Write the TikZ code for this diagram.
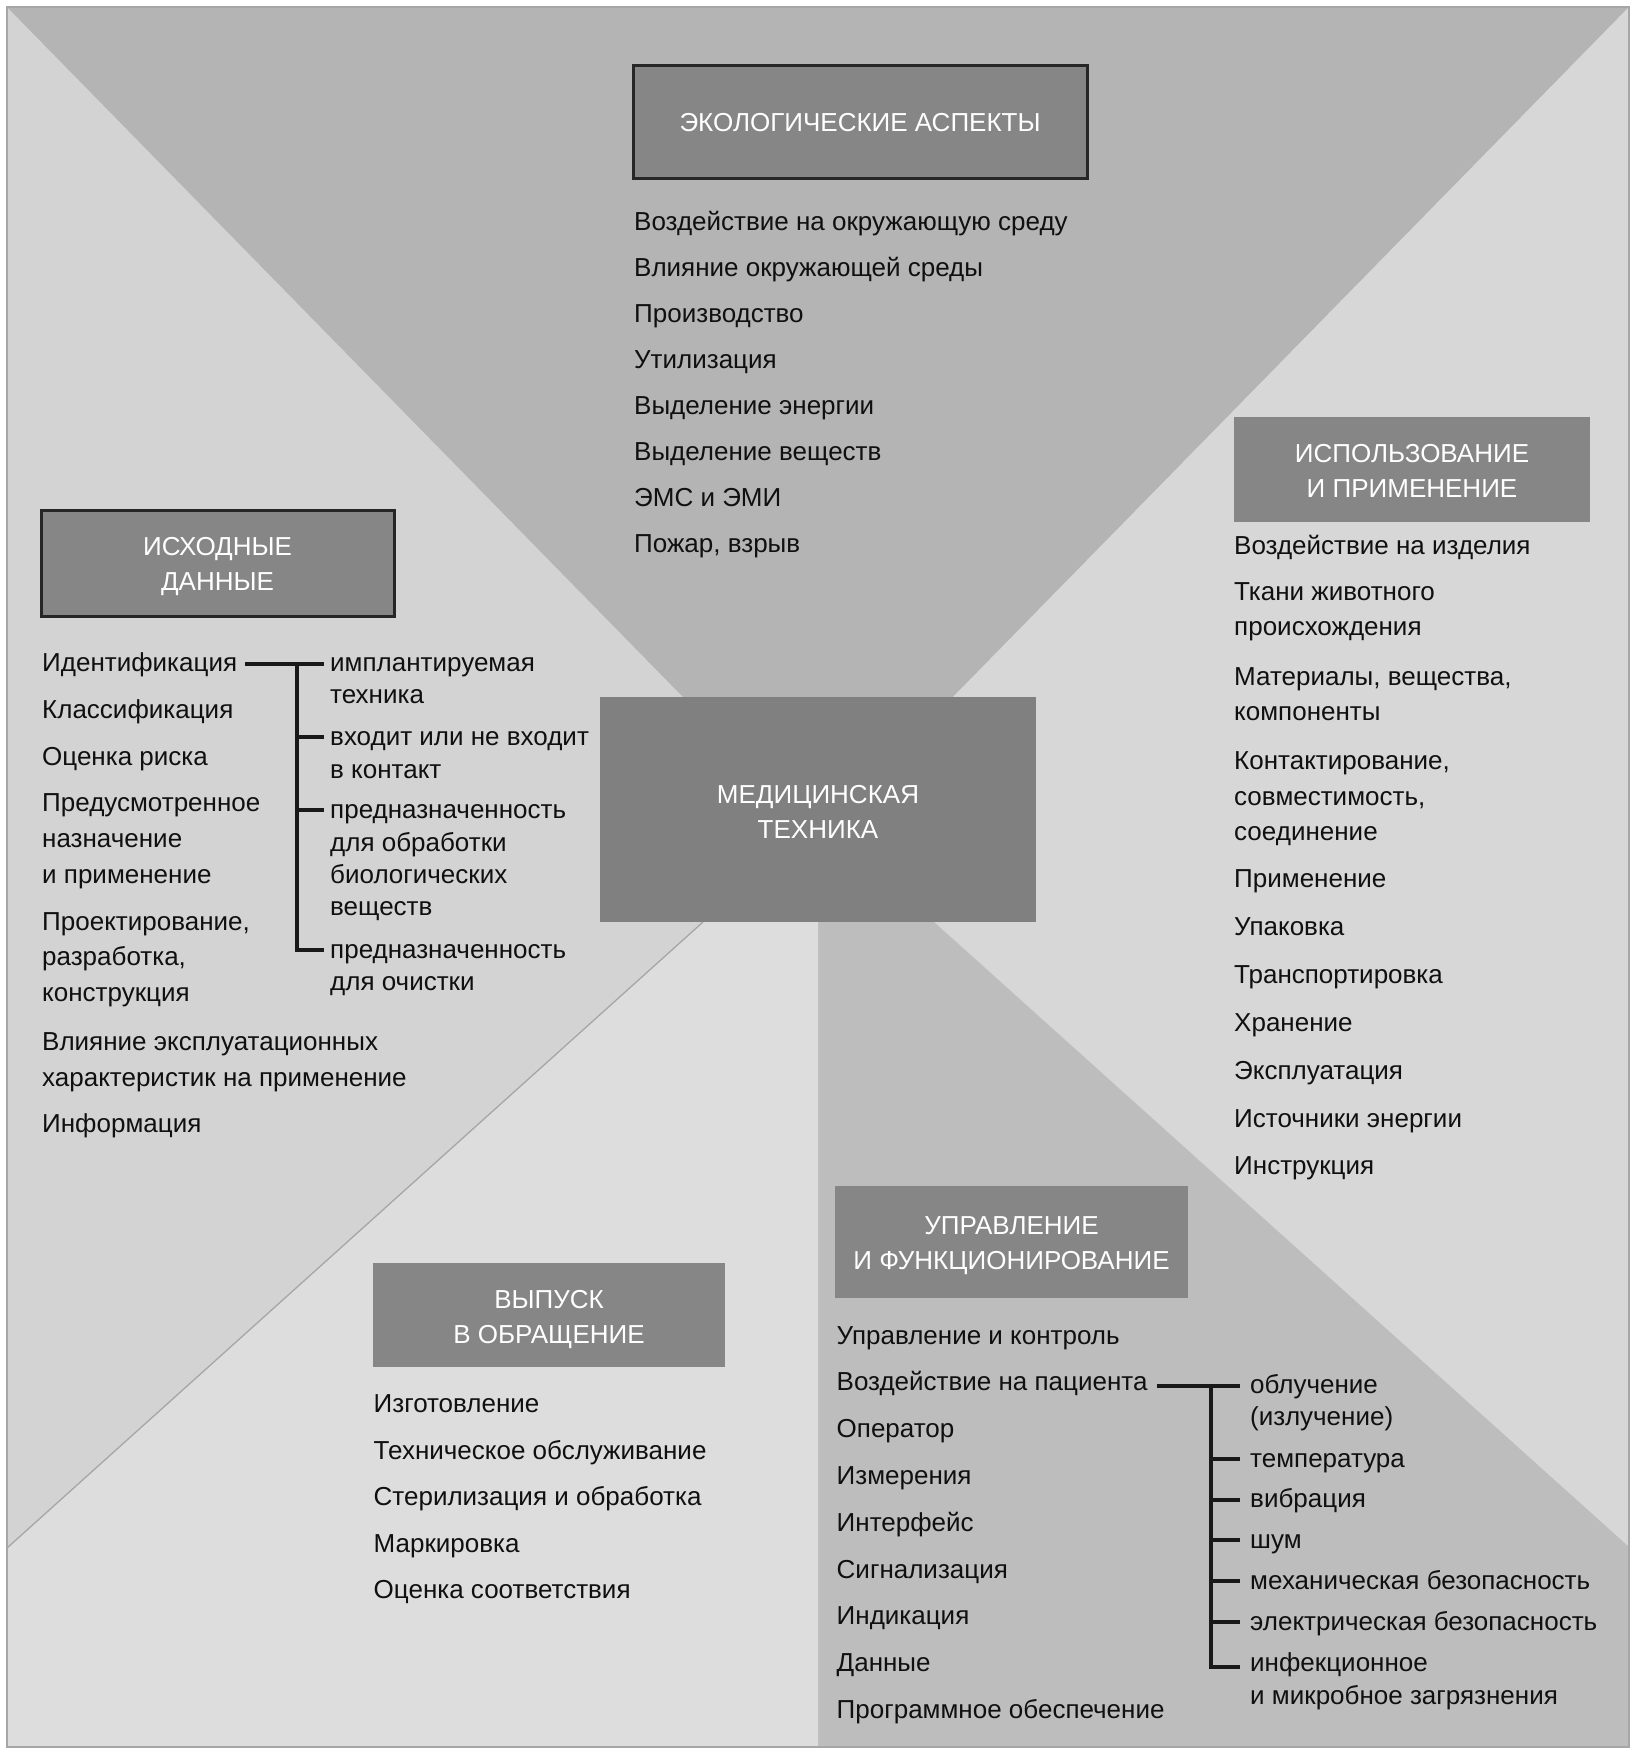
\documentclass[tikz,border=0pt]{standalone}
\usepackage{fontspec}
\setmainfont{Liberation Sans}
\usetikzlibrary{calc}
\definecolor{cTop}{HTML}{B4B4B4}
\definecolor{cLeft}{HTML}{D3D3D3}
\definecolor{cRight}{HTML}{D7D7D7}
\definecolor{cBL}{HTML}{DDDDDD}
\definecolor{cBR}{HTML}{BDBDBD}
\definecolor{cHdr}{HTML}{868686}
\definecolor{cCore}{HTML}{808080}
\definecolor{cTxt}{HTML}{101010}
\begin{document}
\begin{tikzpicture}[x=1pt,y=-1pt,
  txt/.style={anchor=base west, inner sep=0pt, text=cTxt, font=\fontsize{26}{30}\selectfont},
  hdrbox/.style={fill=cHdr, inner sep=0pt},
  hdrtxt/.style={inner sep=0pt, text=white, align=center, font=\fontsize{26}{35}\selectfont},
  framed/.style={draw=black!85, line width=3pt},
  brk/.style={line width=4pt, draw=black!90, line join=miter}]
\useasboundingbox (0,0) rectangle (1636,1754);
\fill[white] (0,0) rectangle (1636,1754);
% regions
\fill[cLeft] (7,7) rectangle (1629,1747);
\fill[cTop] (7,7) -- (1629,7) -- (953,697) -- (683,697) -- cycle;
\fill[cRight] (1629,7) -- (953,697) -- (934,922) -- (1629,1547) -- cycle;
\fill[cBR] (818,922) -- (934,922) -- (1629,1547) -- (1629,1747) -- (818,1747) -- cycle;
\fill[cBL] (7,1548) -- (703,922) -- (818,922) -- (818,1747) -- (7,1747) -- cycle;
\draw[black!35, line width=1.3pt] (703,922) -- (7,1548);
\draw[black!35, line width=1.2pt] (7,7) rectangle (1629,1747);

% centre
\node[hdrbox, fill=cCore, minimum width=436, minimum height=225] (core) at (818,809.5) {};
\node[hdrtxt] (core-t) at ($(core.center)+(0,2)$) {МЕДИЦИНСКАЯ\\ТЕХНИКА};

% headers
\node[hdrbox, framed, minimum width=454, minimum height=113] (eco) at (860,121.5) {};
\node[hdrtxt] (eco-t) at ($(eco.center)+(0,1)$) {ЭКОЛОГИЧЕСКИЕ АСПЕКТЫ};
\node[hdrbox, framed, minimum width=353, minimum height=106] (ish) at (217.5,563) {};
\node[hdrtxt] (ish-t) at ($(ish.center)+(0,4)$) {ИСХОДНЫЕ\\ДАННЫЕ};
\node[hdrbox, minimum width=356, minimum height=105] (isp) at (1412,469.5) {};
\node[hdrtxt] (isp-t) at ($(isp.center)+(0,1)$) {ИСПОЛЬЗОВАНИЕ\\И ПРИМЕНЕНИЕ};
\node[hdrbox, minimum width=353, minimum height=112] (upr) at (1011.5,1242) {};
\node[hdrtxt] (upr-t) at ($(upr.center)+(0,4)$) {УПРАВЛЕНИЕ\\И ФУНКЦИОНИРОВАНИЕ};
\node[hdrbox, minimum width=352, minimum height=104] (vyp) at (549,1315) {};
\node[hdrtxt] (vyp-t) at ($(vyp.center)+(0,4)$) {ВЫПУСК\\В ОБРАЩЕНИЕ};

% top list
\node[txt] (t1) at (634,230) {Воздействие на окружающую среду};
\node[txt] (t2) at (634,276.1) {Влияние окружающей среды};
\node[txt] (t3) at (634,322.2) {Производство};
\node[txt] (t4) at (634,368.3) {Утилизация};
\node[txt] (t5) at (634,414.4) {Выделение энергии};
\node[txt] (t6) at (634,460.5) {Выделение веществ};
\node[txt] (t7) at (634,506.6) {ЭМС и ЭМИ};
\node[txt] (t8) at (634,552.7) {Пожар, взрыв};

% left list
\node[txt] (idn) at (42,671.7) {Идентификация};
\node[txt] (l2) at (42,718.3) {Классификация};
\node[txt] (l3) at (42,765) {Оценка риска};
\node[txt] (l4a) at (42,811.7) {Предусмотренное};
\node[txt] (l4b) at (42,847.7) {назначение};
\node[txt] (l4c) at (42,883.3) {и применение};
\node[txt] (l5a) at (42,930) {Проектирование,};
\node[txt] (l5b) at (42,965.5) {разработка,};
\node[txt] (l5c) at (42,1001.7) {конструкция};
\node[txt] (l6a) at (42,1050) {Влияние эксплуатационных};
\node[txt] (l6b) at (42,1086) {характеристик на применение};
\node[txt] (l7) at (42,1132) {Информация};

% left sub list
\node[txt] (s1a) at (330,671.7) {имплантируемая};
\node[txt] (s1b) at (330,703.3) {техника};
\node[txt] (s2a) at (330,745) {входит или не входит};
\node[txt] (s2b) at (330,778.3) {в контакт};
\node[txt] (s3a) at (330,818.3) {предназначенность};
\node[txt] (s3b) at (330,851.7) {для обработки};
\node[txt] (s3c) at (330,883.3) {биологических};
\node[txt] (s3d) at (330,915) {веществ};
\node[txt] (s4a) at (330,958.3) {предназначенность};
\node[txt] (s4b) at (330,990) {для очистки};

% right list
\node[txt] (r1) at (1234,554) {Воздействие на изделия};
\node[txt] (r2a) at (1234,600) {Ткани животного};
\node[txt] (r2b) at (1234,635.5) {происхождения};
\node[txt] (r3a) at (1234,685.5) {Материалы, вещества,};
\node[txt] (r3b) at (1234,720.5) {компоненты};
\node[txt] (r4a) at (1234,769.7) {Контактирование,};
\node[txt] (r4b) at (1234,805.5) {совместимость,};
\node[txt] (r4c) at (1234,840) {соединение};
\node[txt] (r5) at (1234,887.5) {Применение};
\node[txt] (r6) at (1234,935) {Упаковка};
\node[txt] (r7) at (1234,983) {Транспортировка};
\node[txt] (r8) at (1234,1031) {Хранение};
\node[txt] (r9) at (1234,1079) {Эксплуатация};
\node[txt] (r10) at (1234,1127) {Источники энергии};
\node[txt] (r11) at (1234,1174) {Инструкция};

% bottom-left list
\node[txt] (b1) at (373.5,1412.5) {Изготовление};
\node[txt] (b2) at (373.5,1459) {Техническое обслуживание};
\node[txt] (b3) at (373.5,1505.5) {Стерилизация и обработка};
\node[txt] (b4) at (373.5,1552) {Маркировка};
\node[txt] (b5) at (373.5,1598.5) {Оценка соответствия};

% bottom-right list
\node[txt] (u1) at (836.5,1344) {Управление и контроль};
\node[txt] (pat) at (836.5,1390.8) {Воздействие на пациента};
\node[txt] (u3) at (836.5,1437.6) {Оператор};
\node[txt] (u4) at (836.5,1484.4) {Измерения};
\node[txt] (u5) at (836.5,1531.2) {Интерфейс};
\node[txt] (u6) at (836.5,1578) {Сигнализация};
\node[txt] (u7) at (836.5,1624.8) {Индикация};
\node[txt] (u8) at (836.5,1671.6) {Данные};
\node[txt] (u9) at (836.5,1718.4) {Программное обеспечение};

% bottom-right sub list
\node[txt] (p1a) at (1250,1393) {облучение};
\node[txt] (p1b) at (1250,1425.5) {(излучение)};
\node[txt] (p2) at (1250,1467) {температура};
\node[txt] (p3) at (1250,1507.5) {вибрация};
\node[txt] (p4) at (1250,1548) {шум};
\node[txt] (p5) at (1250,1589) {механическая безопасность};
\node[txt] (p6) at (1250,1630) {электрическая безопасность};
\node[txt] (p7a) at (1250,1671.5) {инфекционное};
\node[txt] (p7b) at (1250,1704) {и микробное загрязнения};

% left bracket
\coordinate (idn-e) at ($(idn.base east)+(8,-8)$);
\coordinate (s1-t) at ($(s1a.base west)+(-6,-8)$);
\coordinate (s2-t) at ($(s2a.base west)+(-6,-8)$);
\coordinate (s3-t) at ($(s3a.base west)+(-6,-8)$);
\coordinate (s4-t) at ($(s4a.base west)+(-6,-8)$);
\coordinate (lsp) at (296.5,0);
\draw[brk] (idn-e) -- (s1-t);
\draw[brk] (lsp |- s1-t) -- (lsp |- s4-t) -- (s4-t);
\draw[brk] (lsp |- s2-t) -- (s2-t);
\draw[brk] (lsp |- s3-t) -- (s3-t);

% right bracket
\coordinate (pat-e) at ($(pat.base east)+(9,-5)$);
\coordinate (p1-t) at ($(p1a.base west)+(-10,-7)$);
\coordinate (p2-t) at ($(p2.base west)+(-10,-8)$);
\coordinate (p3-t) at ($(p3.base west)+(-10,-8)$);
\coordinate (p4-t) at ($(p4.base west)+(-10,-8)$);
\coordinate (p5-t) at ($(p5.base west)+(-10,-8)$);
\coordinate (p6-t) at ($(p6.base west)+(-10,-8)$);
\coordinate (p7-t) at ($(p7a.base west)+(-10,-5)$);
\coordinate (rsp) at (1211,0);
\draw[brk] (pat-e) -- (pat-e -| p1-t);
\draw[brk] (rsp |- pat-e) -- (rsp |- p7-t) -- (p7-t);
\foreach \t in {p2-t,p3-t,p4-t,p5-t,p6-t} \draw[brk] (rsp |- \t) -- (\t);
\end{tikzpicture}
\end{document}
